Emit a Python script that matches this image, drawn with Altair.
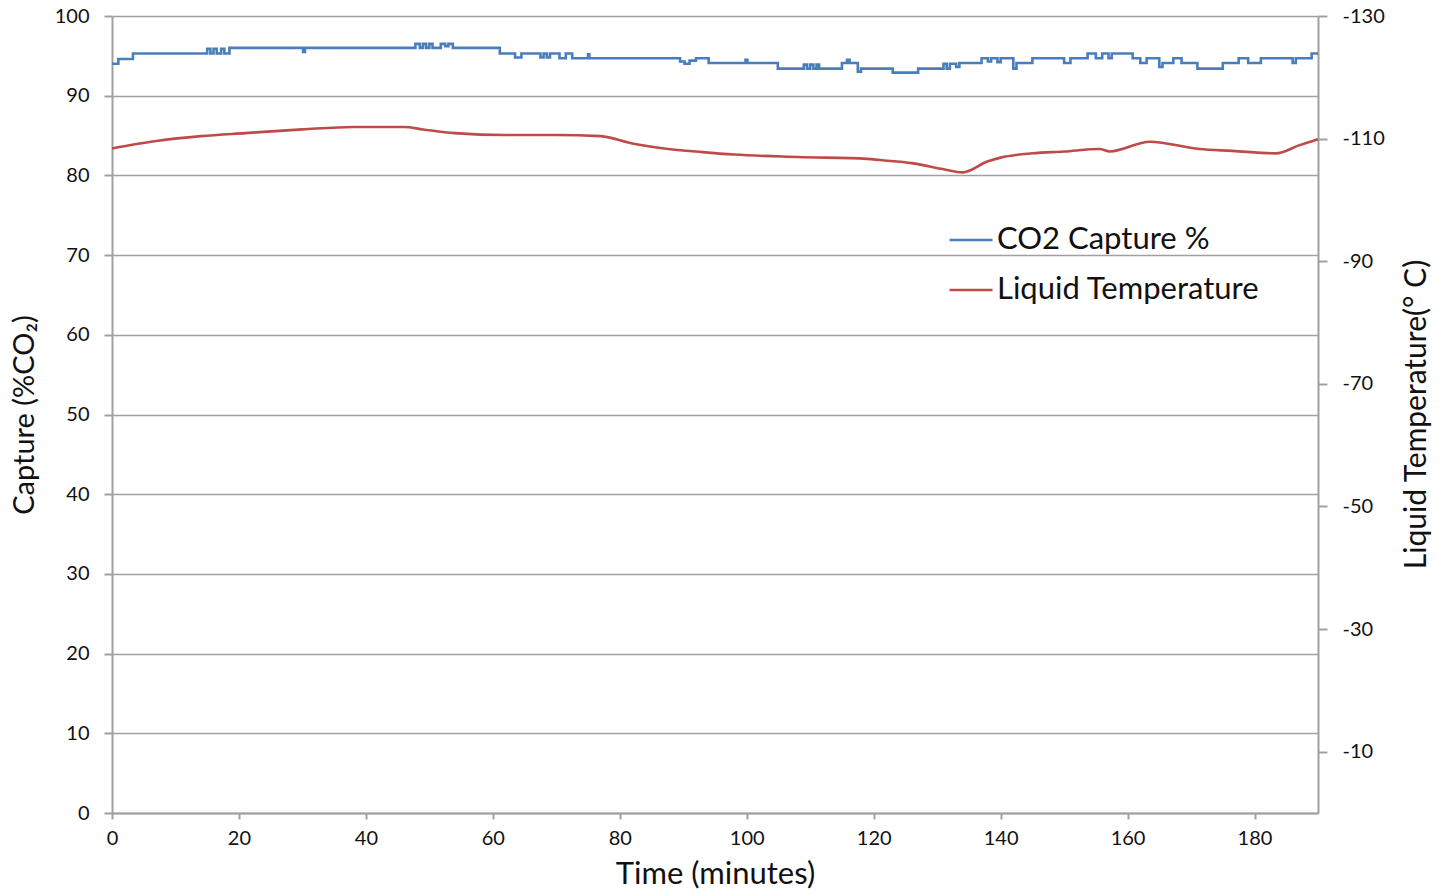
import altair as alt
import pandas as pd

# CO2 capture (%), step changes: time (min) -> value
co2_t = [0, 1, 3.3, 15, 15.5, 16, 16.5, 17.2, 17.7, 18.5, 30.1, 30.4,
         47.8, 48.5, 49.0, 49.5, 50.0, 50.5, 51.8, 52.5, 53.0, 53.7, 61.1,
         63.5, 64.5, 67.5, 68.0, 68.5, 69.0, 70.5, 71.5, 72.5, 75.0, 75.2,
         89.5, 90.2, 91.0, 92.0, 94.0, 99.8, 100.1, 104.9,
         109.0, 109.5, 110.0, 110.5, 111.0, 111.4, 115.0, 115.8, 116.2, 117.5, 118.0,
         123.0, 127.0, 131.0, 131.5, 132.0, 133.0, 133.5, 134.6, 137.0, 138.0, 138.5,
         139.5, 140.0, 142.0, 142.5, 145.0, 150.0, 151.0, 153.7, 155.0, 156.0,
         157.0, 157.5, 160.8, 162.0, 163.0, 165.0, 165.5, 167.2, 168.5, 171.0,
         175.0, 177.5, 179.0, 181.0, 186.0, 186.5, 189.0, 190.0]
co2_v = [94.0, 94.6, 95.3, 95.9, 95.3, 95.9, 95.3, 95.9, 95.3, 96.0, 95.5, 96.0,
         96.5, 96.0, 96.5, 96.0, 96.5, 96.0, 96.5, 96.2, 96.5, 96.0, 95.3,
         94.8, 95.3, 94.8, 95.3, 94.8, 95.3, 94.7, 95.3, 94.7, 95.2, 94.7,
         94.3, 94.0, 94.4, 94.7, 94.1, 94.5, 94.1, 93.4,
         93.9, 93.4, 93.9, 93.4, 93.9, 93.4, 94.1, 94.5, 94.1, 93.0, 93.4,
         92.9, 93.4, 94.0, 93.4, 94.0, 93.6, 94.1, 94.1, 94.7, 94.3, 94.7,
         94.2, 94.7, 93.4, 94.1, 94.7, 94.1, 94.7, 95.3, 94.7, 95.3,
         94.7, 95.3, 94.7, 94.1, 94.7, 93.6, 94.1, 94.7, 94.1, 93.4,
         94.1, 94.7, 94.1, 94.7, 94.1, 94.7, 95.3, 95.3]

# Liquid temperature (deg C)
temp_t = [0, 7, 14, 21, 30, 38, 46, 49, 54, 62, 70, 77, 82, 87, 93, 98,
          108, 119, 121, 126, 131, 134, 138, 140, 145, 150, 155.6, 157.2,
          163.5, 171.3, 176.5, 183.4, 187, 190]
temp_v = [-108.4, -109.6, -110.4, -110.9, -111.5, -111.9, -111.9, -111.5,
          -110.9, -110.6, -110.6, -110.4, -109.2, -108.4, -107.8, -107.4,
          -107.0, -106.7, -106.5, -106.0, -105.0, -104.5, -106.3, -106.9,
          -107.6, -107.9, -108.3, -107.9, -109.5, -108.3, -108.0, -107.6,
          -108.9, -109.9]

series = ["CO2 Capture %", "Liquid Temperature"]
colors = ["#4a7ebb", "#be4b48"]

co2_df = pd.DataFrame({"t": co2_t, "v": co2_v, "series": series[0]})
temp_df = pd.DataFrame({"t": temp_t, "temp": temp_v, "series": series[1]})

FONT = "Lato"
GRID = "#a0a0a0"
TXT = "#111"

color = alt.Color(
    "series:N",
    scale=alt.Scale(domain=series, range=colors),
    legend=alt.Legend(
        title=None, orient="none", legendX=836, legendY=201,
        symbolType="stroke", symbolSize=1849, symbolStrokeWidth=2.5,
        labelFont=FONT, labelFontSize=31, labelColor=TXT,
        labelOffset=3, rowPadding=12, labelLimit=500,
    ),
)

xenc = alt.X(
    "t:Q",
    scale=alt.Scale(domain=[0, 190], nice=False, zero=False),
    axis=alt.Axis(
        values=list(range(0, 181, 20)), title="Time (minutes)", grid=False,
        titleFont=FONT, titleFontSize=31, titleFontWeight="normal", titleColor=TXT,
        titlePadding=11, labelFlush=False,
        labelFont=FONT, labelFontSize=20, labelColor=TXT, labelPadding=9,
        tickSize=6, tickColor=GRID, tickWidth=2, domainColor=GRID, domainWidth=2,
    ),
)

co2_line = alt.Chart(co2_df).mark_line(interpolate="step-after", strokeWidth=2.6).encode(
    x=xenc,
    y=alt.Y(
        "v:Q",
        scale=alt.Scale(domain=[0, 100], nice=False),
        axis=alt.Axis(
            values=list(range(0, 101, 10)), title="Capture (%CO₂)",
            grid=True, gridColor=GRID, gridWidth=1.5,
            titleFont=FONT, titleFontSize=29, titleFontWeight="normal", titleColor=TXT,
            titlePadding=15,
            labelFont=FONT, labelFontSize=20, labelColor=TXT, labelPadding=15,
            tickSize=8, tickColor=GRID, tickWidth=2, domainColor=GRID, domainWidth=2,
        ),
    ),
    color=color,
)

temp_line = alt.Chart(temp_df).mark_line(strokeWidth=2.6, interpolate="monotone").encode(
    x=xenc,
    y=alt.Y(
        "temp:Q",
        scale=alt.Scale(domain=[-130, 0], reverse=True, nice=False),
        axis=alt.Axis(
            orient="right", values=list(range(-130, 0, 20)),
            labelExpr="'' + datum.value",
            title="Liquid Temperature(° C)", grid=False, titleAngle=270,
            titleX=107, titleY=398, titleAlign="center", titleBaseline="alphabetic",
            titleFont=FONT, titleFontSize=30, titleFontWeight="normal", titleColor=TXT,
            labelFont=FONT, labelFontSize=20, labelColor=TXT, labelPadding=15,
            tickSize=9, tickColor=GRID, tickWidth=2, domainColor=GRID, domainWidth=2,
        ),
    ),
    color=color,
)

chart = (
    alt.layer(co2_line, temp_line)
    .resolve_scale(y="independent")
    .properties(
        width=1206, height=797,
        autosize=alt.AutoSizeParams(type="none"),
        padding={"left": 112, "top": 16, "right": 123, "bottom": 80},
        background="white",
    )
    .configure_view(stroke=None)
)

chart.save("out.html", embed_options={"renderer": "svg", "actions": False})
